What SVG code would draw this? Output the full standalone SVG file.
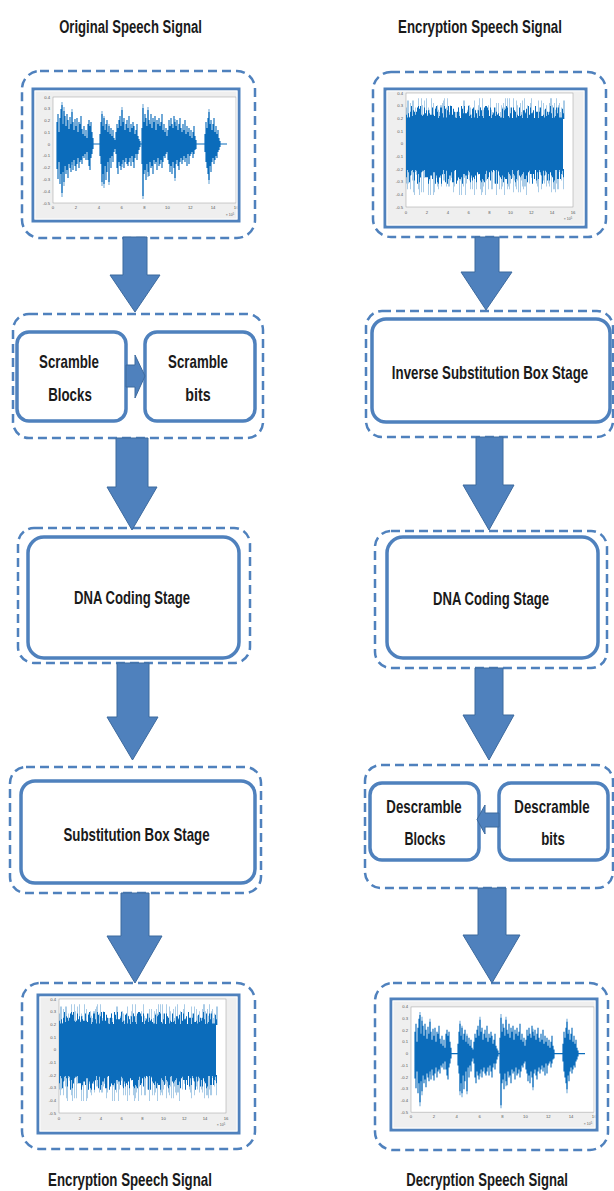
<svg xmlns="http://www.w3.org/2000/svg" xmlns:xlink="http://www.w3.org/1999/xlink" width="614" height="1191" viewBox="0 0 614 1191">
<style>
.dash{fill:none;stroke:#4f81bd;stroke-width:2.5;stroke-dasharray:9 5}
.box{fill:#fff;stroke:#4f81bd;stroke-width:3.5}
.frame{fill:none;stroke:#4f81bd;stroke-width:3}
.frin{fill:none;stroke:#fff;stroke-width:1}
.arrow{fill:#4f81bd;stroke:#3d6a9e;stroke-width:1}
.lbl{font-family:"Liberation Sans",Arial,sans-serif;font-size:19px;font-weight:bold;fill:#1a1a1a;text-anchor:middle}
.tk{font-family:"Liberation Sans",Arial,sans-serif;font-size:4.2px;fill:#555}
.tky{text-anchor:end}
.tkx{text-anchor:middle}
.sig{stroke:#0b6cbb;stroke-width:1.15;fill:none}
.nz{fill:#0b6cbb}
.nzl{fill:#0b6cbb;opacity:0.35}
</style>
<defs>
<symbol id="speechPlot" viewBox="0 0 206 132" preserveAspectRatio="none">
<rect width="206" height="132" fill="#efefef"/>
<rect x="20" y="8" width="183" height="106" fill="#fff" stroke="#9a9a9a" stroke-width="0.5"/>
<g class="tk tky">
<text x="17" y="9.5">0.4</text><text x="17" y="21.3">0.3</text><text x="17" y="33.1">0.2</text><text x="17" y="44.8">0.1</text><text x="17" y="56.6">0</text><text x="17" y="68.4">-0.1</text><text x="17" y="80.2">-0.2</text><text x="17" y="91.9">-0.3</text><text x="17" y="103.7">-0.4</text><text x="17" y="115.5">-0.5</text>
</g>
<g class="tk tkx">
<text x="20" y="120">0</text><text x="42.9" y="120">2</text><text x="65.8" y="120">4</text><text x="88.6" y="120">6</text><text x="111.5" y="120">8</text><text x="134.4" y="120">10</text><text x="157.3" y="120">12</text><text x="180.1" y="120">14</text><text x="203" y="120">16</text>
<text x="197" y="127" font-size="3.5">× 10<tspan dy="-1.5" font-size="2.6">5</tspan></text>
</g>
<path class="sig" stroke-width="2" d="M24 55H194"/>
<path class="sig" opacity="0.55" d="M29 13V108M31 18V97M39 20V76M69 22V97M71 27V99M76 35V96M89 18V78M110 15V110M115 18V88M142 30V92M176 20V95"/>
<path class="sig" d="M24 33V80M25 25V90M26 43V73M27 29V95M28 20V85M29 16V104M30 35V83M31 22V93M32 27V77M33 37V85M34 25V81M35 31V89M36 40V75M37 28V79M38 35V83M39 23V73M40 33V81M41 41V71M42 30V77M43 37V82M44 29V75M45 43V69M46 33V79M47 35V73M48 27V71M49 40V75M50 45V67M51 37V69M52 47V65M53 41V71M54 49V63M55 35V71M56 31V77M57 37V81M58 33V69M59 43V65M60 49V60M67 45V67M68 33V75M69 25V93M70 37V85M71 29V95M72 41V77M73 35V91M74 31V83M75 43V73M76 37V93M77 45V69M78 39V79M79 47V67M80 41V73M81 49V63M82 51V60M83 43V65M84 35V79M85 39V85M86 31V73M87 27V77M88 37V81M89 21V75M90 33V71M91 29V79M92 41V73M93 35V69M94 31V75M95 39V77M96 27V73M97 43V69M98 35V77M99 39V67M100 33V73M101 37V79M102 45V69M103 41V65M104 35V71M105 47V65M106 50V61M107 52V58M109 39V75M110 19V107M111 33V85M112 25V81M113 29V91M114 37V75M115 21V83M116 31V87M117 35V73M118 25V79M119 39V77M120 29V85M121 33V71M122 27V75M123 41V73M124 31V81M125 35V69M126 29V77M127 37V75M128 33V71M129 25V79M130 41V73M131 35V67M132 43V69M133 39V65M134 47V63M135 41V71M136 31V75M137 37V83M138 29V77M139 35V85M140 39V73M141 27V79M142 33V89M143 37V75M144 31V71M145 41V77M146 35V81M147 29V73M148 39V69M149 43V75M150 35V71M151 41V67M152 31V73M153 45V69M154 37V77M155 43V65M156 39V75M157 47V67M158 41V65M159 49V63M160 43V69M161 37V65M162 47V61M163 51V60M172 45V63M173 33V73M174 39V79M175 29V85M176 23V91M177 35V77M178 31V83M179 41V73M180 35V69M181 29V75M182 43V71M183 37V67M184 45V69M185 41V63M186 49V61M187 52V58"/>
</symbol>
<symbol id="noisePlot" viewBox="0 0 201 138" preserveAspectRatio="none">
<rect width="201" height="138" fill="#efefef"/>
<rect x="21" y="4" width="167" height="114" fill="#fff" stroke="#9a9a9a" stroke-width="0.5"/>
<g class="tk tky">
<text x="18" y="5.5">0.4</text><text x="18" y="18.2">0.3</text><text x="18" y="30.8">0.2</text><text x="18" y="43.5">0.1</text><text x="18" y="56.2">0</text><text x="18" y="68.8">-0.1</text><text x="18" y="81.5">-0.2</text><text x="18" y="94.2">-0.3</text><text x="18" y="106.8">-0.4</text><text x="18" y="119.5">-0.5</text>
</g>
<g class="tk tkx">
<text x="21" y="124.5">0</text><text x="41.9" y="124.5">2</text><text x="62.8" y="124.5">4</text><text x="83.6" y="124.5">6</text><text x="104.5" y="124.5">8</text><text x="125.4" y="124.5">10</text><text x="146.3" y="124.5">12</text><text x="167.1" y="124.5">14</text><text x="188" y="124.5">16</text>
<text x="183" y="131" font-size="3.5">× 10<tspan dy="-1.5" font-size="2.6">5</tspan></text>
</g>
<g transform="translate(0,30) scale(1,2.3)"><path class="nzl" d="M21 0V-5h1V-8h1V-8h1V-1h1V-7h1V-4h1V-8h1V-8h1V-1h1V-5h1V-2h1V-0h1V-9h1V-2h1V-0h1V-9h1V-6h1V-2h1V-8h1V-2h1V-9h1V-2h1V-5h1V-4h1V-0h1V-9h1V-1h1V-7h1V-1h1V-5h1V-3h1V-6h1V-4h1V-3h1V-6h1V-6h1V-7h1V-8h1V-9h1V-2h1V-5h1V-9h1V-0h1V-3h1V-6h1V-0h1V-0h1V-1h1V-1h1V-3h1V-3h1V-0h1V-5h1V-3h1V-0h1V-5h1V-4h1V-8h1V-8h1V-2h1V-0h1V-4h1V-6h1V-6h1V-5h1V-2h1V-1h1V-3h1V-8h1V-4h1V-1h1V-4h1V-6h1V-9h1V-5h1V-1h1V-9h1V-4h1V-1h1V-5h1V-1h1V-1h1V-6h1V-0h1V-9h1V-4h1V-3h1V-3h1V-0h1V-5h1V-7h1V-2h1V-7h1V-0h1V-3h1V-6h1V-5h1V-7h1V-5h1V-9h1V-5h1V-9h1V-1h1V-9h1V-5h1V-3h1V-0h1V-9h1V-2h1V-1h1V-8h1V-6h1V-1h1V-1h1V-7h1V-3h1V-8h1V-1h1V-9h1V-3h1V-2h1V-6h1V-1h1V-1h1V-7h1V-9h1V-3h1V-1h1V-0h1V-5h1V-1h1V-1h1V-8h1V-5h1V-4h1V-8h1V-0h1V-7h1V-4h1V-4h1V-6h1V-2h1V-3h1V-7h1V-9h1V-9h1V-6h1V-2h1V-7h1V-4h1V-9h1V-5h1V-6h1V-7h1V-3h1V-5h1V-1h1V-8h1V-8h1V0Z"/></g>
<g transform="translate(0,80) scale(1,2.9)"><path class="nzl" d="M21 0V5h1V7h1V5h1V2h1V7h1V2h1V4h1V8h1V9h1V1h1V2h1V2h1V7h1V9h1V3h1V8h1V1h1V8h1V3h1V0h1V1h1V1h1V9h1V4h1V9h1V1h1V2h1V9h1V8h1V3h1V3h1V6h1V7h1V3h1V3h1V6h1V2h1V4h1V4h1V0h1V6h1V5h1V6h1V6h1V4h1V3h1V0h1V8h1V6h1V0h1V2h1V1h1V3h1V9h1V4h1V9h1V4h1V6h1V3h1V9h1V5h1V2h1V2h1V4h1V7h1V3h1V7h1V1h1V9h1V0h1V7h1V0h1V2h1V1h1V7h1V9h1V8h1V6h1V0h1V9h1V4h1V3h1V7h1V0h1V2h1V7h1V7h1V0h1V5h1V3h1V9h1V2h1V1h1V7h1V1h1V7h1V6h1V2h1V9h1V3h1V1h1V7h1V6h1V7h1V5h1V2h1V3h1V8h1V4h1V6h1V7h1V4h1V8h1V1h1V8h1V4h1V6h1V7h1V6h1V6h1V9h1V4h1V0h1V5h1V1h1V3h1V2h1V0h1V0h1V0h1V5h1V6h1V8h1V1h1V2h1V7h1V1h1V4h1V5h1V2h1V6h1V3h1V5h1V6h1V0h1V8h1V2h1V7h1V7h1V8h1V5h1V7h1V7h1V1h1V3h1V4h1V2h1V7h1V0Z"/></g>
<rect class="nz" x="21" y="29" width="157" height="52"/>
<g transform="translate(0,30) scale(1,1.45)"><path class="nz" d="M21 0V-3h1V-1h1V-4h1V-1h1V-5h1V-9h1V-2h1V-6h1V-5h1V-3h1V-5h1V-8h1V-9h1V-7h1V-9h1V-3h1V-2h1V-3h1V-8h1V-4h1V-6h1V-2h1V-6h1V-4h1V-3h1V-3h1V-8h1V-3h1V-2h1V-7h1V-9h1V-5h1V-0h1V-2h1V-8h1V-8h1V-4h1V-1h1V-9h1V-7h1V-1h1V-6h1V-9h1V-3h1V-9h1V-9h1V-3h1V-7h1V-5h1V-1h1V-0h1V-5h1V-8h1V-2h1V-0h1V-9h1V-7h1V-4h1V-9h1V-4h1V-4h1V-5h1V-9h1V-2h1V-3h1V-0h1V-7h1V-8h1V-1h1V-6h1V-4h1V-0h1V-6h1V-2h1V-8h1V-6h1V-2h1V-0h1V-8h1V-9h1V-9h1V-8h1V-6h1V-2h1V-8h1V-0h1V-3h1V-4h1V-8h1V-2h1V-5h1V-3h1V-4h1V-2h1V-1h1V-1h1V-7h1V-0h1V-6h1V-7h1V-9h1V-8h1V-2h1V-1h1V-4h1V-8h1V-0h1V-8h1V-6h1V-5h1V-1h1V-3h1V-2h1V-8h1V-2h1V-3h1V-0h1V-6h1V-6h1V-4h1V-7h1V-0h1V-9h1V-3h1V-8h1V-4h1V-4h1V-6h1V-0h1V-9h1V-5h1V-5h1V-0h1V-5h1V-8h1V-2h1V-2h1V-3h1V-1h1V-7h1V-2h1V-5h1V-3h1V-5h1V-9h1V-4h1V-0h1V-8h1V-1h1V-2h1V-8h1V-4h1V-8h1V-1h1V-1h1V-1h1V-7h1V-4h1V0Z"/></g>
<g transform="translate(0,80) scale(1,1.65)"><path class="nz" d="M21 0V5h1V0h1V2h1V8h1V4h1V1h1V0h1V2h1V7h1V0h1V1h1V9h1V3h1V8h1V5h1V2h1V1h1V1h1V0h1V5h1V5h1V5h1V9h1V6h1V4h1V4h1V6h1V2h1V2h1V9h1V4h1V8h1V9h1V5h1V4h1V9h1V3h1V0h1V3h1V8h1V1h1V9h1V6h1V4h1V4h1V2h1V8h1V8h1V1h1V0h1V9h1V7h1V5h1V6h1V6h1V5h1V9h1V3h1V3h1V4h1V4h1V6h1V1h1V2h1V8h1V4h1V7h1V5h1V6h1V4h1V8h1V2h1V3h1V3h1V7h1V8h1V6h1V7h1V8h1V3h1V1h1V6h1V5h1V2h1V7h1V1h1V2h1V0h1V1h1V9h1V0h1V9h1V1h1V4h1V5h1V6h1V4h1V8h1V5h1V6h1V6h1V9h1V2h1V3h1V4h1V6h1V0h1V3h1V4h1V8h1V6h1V1h1V0h1V4h1V5h1V4h1V3h1V2h1V6h1V6h1V4h1V8h1V2h1V1h1V3h1V3h1V9h1V3h1V6h1V0h1V7h1V2h1V6h1V0h1V2h1V4h1V9h1V1h1V4h1V1h1V2h1V7h1V3h1V7h1V2h1V4h1V5h1V8h1V7h1V0h1V0h1V6h1V6h1V0h1V6h1V3h1V1h1V5h1V0Z"/></g>
</symbol>
</defs>
<rect width="614" height="1191" fill="#fff"/>

<g id="title-original">
<text class="lbl" transform="translate(130.5,33) scale(0.69,1)">Original Speech Signal</text>
</g>
<g id="title-encryption-top">
<text class="lbl" transform="translate(480,33) scale(0.7,1)">Encryption Speech Signal</text>
</g>

<g id="node-original-signal">
<rect class="dash" x="22" y="71" width="233" height="167" rx="18"/>
<use href="#speechPlot" x="33" y="89" width="206" height="132"/>
<rect class="frame" x="33" y="89" width="206" height="132"/>
<rect class="frin" x="35" y="91" width="202" height="128"/>
</g>

<g id="node-scramble">
<rect class="dash" x="13" y="314" width="250" height="124" rx="16"/>
<g id="node-scramble-blocks">
<rect class="box" x="17" y="332" width="109" height="89" rx="12"/>
<text class="lbl" transform="translate(69,368) scale(0.7,1)">Scramble</text>
<text class="lbl" transform="translate(70,401) scale(0.7,1)">Blocks</text>
</g>
<g id="node-scramble-bits">
<rect class="box" x="145" y="332" width="110" height="89" rx="12"/>
<text class="lbl" transform="translate(198,368) scale(0.7,1)">Scramble</text>
<text class="lbl" transform="translate(198,401) scale(0.75,1)">bits</text>
</g>
</g>

<g id="node-dna-left">
<rect class="dash" x="18" y="528" width="232" height="135" rx="16"/>
<rect class="box" x="28" y="537" width="211" height="121" rx="16"/>
<text class="lbl" transform="translate(132,604) scale(0.69,1)">DNA Coding Stage</text>
</g>

<g id="node-sbox">
<rect class="dash" x="10" y="767" width="251" height="126" rx="16"/>
<rect class="box" x="21" y="781" width="234" height="102" rx="14"/>
<text class="lbl" transform="translate(136.5,841) scale(0.7,1)">Substitution Box Stage</text>
</g>

<g id="node-encrypted-signal">
<rect class="dash" x="22" y="983" width="233" height="166" rx="18"/>
<use href="#noisePlot" x="38" y="995" width="201" height="138"/>
<rect class="frame" x="38" y="995" width="201" height="138"/>
<rect class="frin" x="40" y="997" width="197" height="134"/>
<text class="lbl" transform="translate(130,1186) scale(0.7,1)">Encryption Speech Signal</text>
</g>

<g id="node-encrypted-input">
<rect class="dash" x="373" y="72" width="233" height="165" rx="18"/>
<use href="#noisePlot" x="385" y="89" width="201" height="138"/>
<rect class="frame" x="385" y="89" width="201" height="138"/>
<rect class="frin" x="387" y="91" width="197" height="134"/>
</g>

<g id="node-inverse-sbox">
<rect class="dash" x="366" y="311" width="247" height="126" rx="16"/>
<rect class="box" x="372" y="319" width="238" height="103" rx="14"/>
<text class="lbl" transform="translate(490,379) scale(0.7,1)">Inverse Substitution Box Stage</text>
</g>

<g id="node-dna-right">
<rect class="dash" x="375" y="531" width="232" height="137" rx="16"/>
<rect class="box" x="387" y="537" width="211" height="121" rx="16"/>
<text class="lbl" transform="translate(491,605) scale(0.69,1)">DNA Coding Stage</text>
</g>

<g id="node-descramble">
<rect class="dash" x="365" y="765" width="248" height="123" rx="16"/>
<g id="node-descramble-blocks">
<rect class="box" x="370" y="783" width="109" height="77" rx="12"/>
<text class="lbl" transform="translate(424,813) scale(0.7,1)">Descramble</text>
<text class="lbl" transform="translate(425,845) scale(0.66,1)">Blocks</text>
</g>
<g id="node-descramble-bits">
<rect class="box" x="499" y="783" width="109" height="77" rx="12"/>
<text class="lbl" transform="translate(552,813) scale(0.7,1)">Descramble</text>
<text class="lbl" transform="translate(553,845) scale(0.7,1)">bits</text>
</g>
</g>

<g id="node-decrypted-signal">
<rect class="dash" x="375" y="983" width="233" height="167" rx="18"/>
<use href="#speechPlot" x="391" y="999" width="206" height="131"/>
<rect class="frame" x="391" y="999" width="206" height="131"/>
<rect class="frin" x="393" y="1001" width="202" height="127"/>
<text class="lbl" transform="translate(487,1186) scale(0.69,1)">Decryption Speech Signal</text>
</g>

<g id="connectors">
<polygon class="arrow" points="123,237 147,237 147,275 160,275 135,312 110,275 123,275"/>
<polygon class="arrow" points="116,438 148,438 148,487 157,487 132,530 107,487 116,487"/>
<polygon class="arrow" points="117,663 149,663 149,717 158,717 132.5,760 107,717 117,717"/>
<polygon class="arrow" points="121,893 149,893 149,936 162,936 135,983 107,936 121,936"/>
<polygon class="arrow" points="126,365 135,365 135,355 145,376 135,398 135,387 126,387"/>
<polygon class="arrow" points="475,237 499,237 499,272 512,272 486,310 461,272 475,272"/>
<polygon class="arrow" points="476,437 503,437 503,485 514,485 489,530 463,485 476,485"/>
<polygon class="arrow" points="475,668 503,668 503,715 514,715 489,760 463,715 475,715"/>
<polygon class="arrow" points="478,888 506,888 506,935 520,935 492,983 463,935 478,935"/>
<polygon class="arrow" points="499,813 485,813 485,805 477,819.5 485,834 485,827 499,827"/>
</g>
</svg>
